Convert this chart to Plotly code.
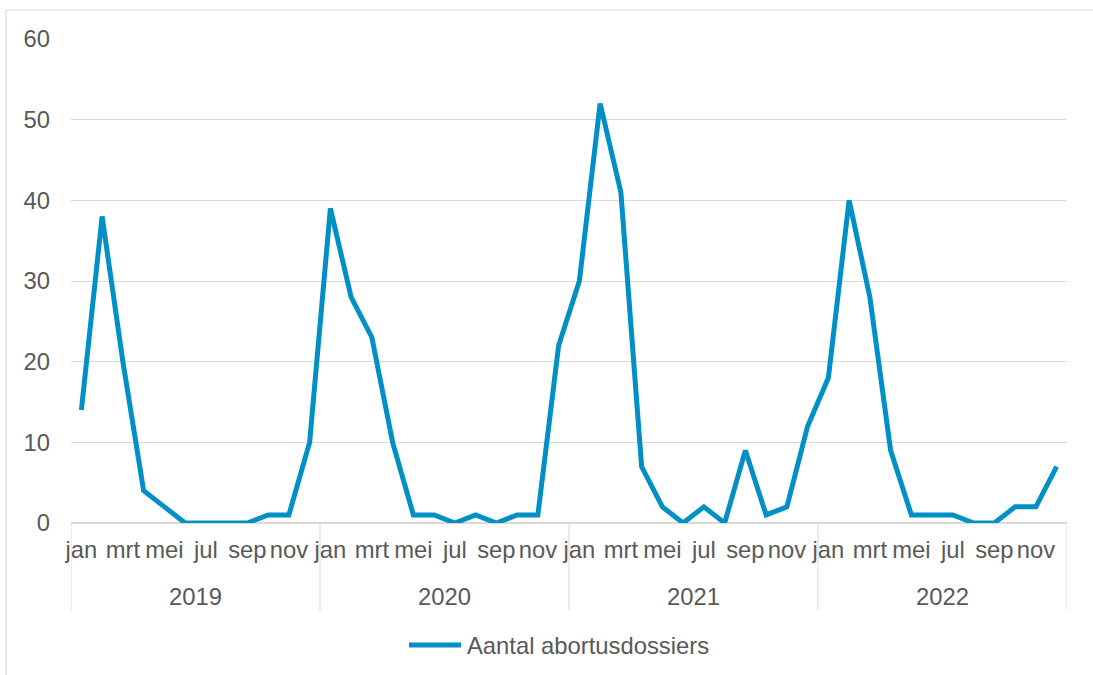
import plotly.graph_objects as go

# Monthly counts per year
months = ["jan", "feb", "mrt", "apr", "mei", "jun", "jul", "aug", "sep", "okt", "nov", "dec"]
years = ["2019", "2020", "2021", "2022"]
v2019 = [14, 38, 20, 4, 2, 0, 0, 0, 0, 1, 1, 10]
v2020 = [39, 28, 23, 10, 1, 1, 0, 1, 0, 1, 1, 22]
v2021 = [30, 52, 41, 7, 2, 0, 2, 0, 9, 1, 2, 12]
v2022 = [18, 40, 28, 9, 1, 1, 1, 0, 0, 2, 2, 7]
series_name = "Aantal abortusdossiers"

values = v2019 + v2020 + v2021 + v2022
n = len(values)
idx = list(range(n))

BLUE = "#0090C5"
TEXT = "#595959"
GRID = "#D9D9D9"
FONT = "Liberation Sans, Arial, sans-serif"
FS = 23.8

W, H = 1093, 675
L, R, T, B = 71, 26, 39, 152
plot_w = W - L - R
plot_h = H - T - B


def px_x(px):
    return (px - L) / plot_w


def px_y(py):
    return (H - B - py) / plot_h


fig = go.Figure()
fig.add_trace(go.Scatter(
    x=idx, y=values, mode="lines", name=series_name,
    line=dict(color=BLUE, width=5),
    showlegend=False, hoverinfo="y",
))

shapes = []
# year group dividers below the axis
for k in range(len(years) + 1):
    shapes.append(dict(type="line", xref="x", yref="paper",
                       x0=12 * k - 0.5, x1=12 * k - 0.5,
                       y0=0, y1=px_y(610),
                       line=dict(color=GRID, width=1)))
# chart area border
shapes.append(dict(type="rect", xref="paper", yref="paper",
                   x0=px_x(6), x1=px_x(W + 20), y0=px_y(H + 20), y1=px_y(10),
                   line=dict(color=GRID, width=1.2), fillcolor="rgba(0,0,0,0)",
                   layer="below"))
# legend sample line
shapes.append(dict(type="line", xref="paper", yref="paper",
                   x0=px_x(409), x1=px_x(461), y0=px_y(645), y1=px_y(645),
                   line=dict(color=BLUE, width=5)))

annotations = []
for k, yr in enumerate(years):
    annotations.append(dict(x=12 * k + 5.5, y=px_y(596), xref="x", yref="paper",
                            text=yr, showarrow=False, xanchor="center", yanchor="middle",
                            font=dict(family=FONT, size=FS, color=TEXT)))
annotations.append(dict(x=px_x(465), y=px_y(645), xref="paper", yref="paper",
                        text=series_name, showarrow=False, xanchor="left", yanchor="middle",
                        font=dict(family=FONT, size=FS, color=TEXT)))

fig.update_layout(
    width=W, height=H,
    margin=dict(l=L, r=R, t=T, b=B),
    paper_bgcolor="white", plot_bgcolor="white",
    font=dict(family=FONT, size=FS, color=TEXT),
    xaxis=dict(
        range=[-0.5, n - 0.5], showgrid=False, zeroline=False, showline=False,
        tickmode="array", tickvals=idx[::2],
        ticktext=[months[i % 12] for i in idx[::2]],
        ticks="", ticklabelstandoff=10, fixedrange=True,
    ),
    yaxis=dict(
        range=[0, 60], dtick=10, showgrid=True, gridcolor=GRID, gridwidth=1,
        zeroline=True, zerolinecolor=GRID, zerolinewidth=1.5, showline=False,
        ticks="", ticklabelstandoff=20, fixedrange=True,
    ),
    shapes=shapes, annotations=annotations,
    showlegend=False,
)

fig.write_html("out.html")
